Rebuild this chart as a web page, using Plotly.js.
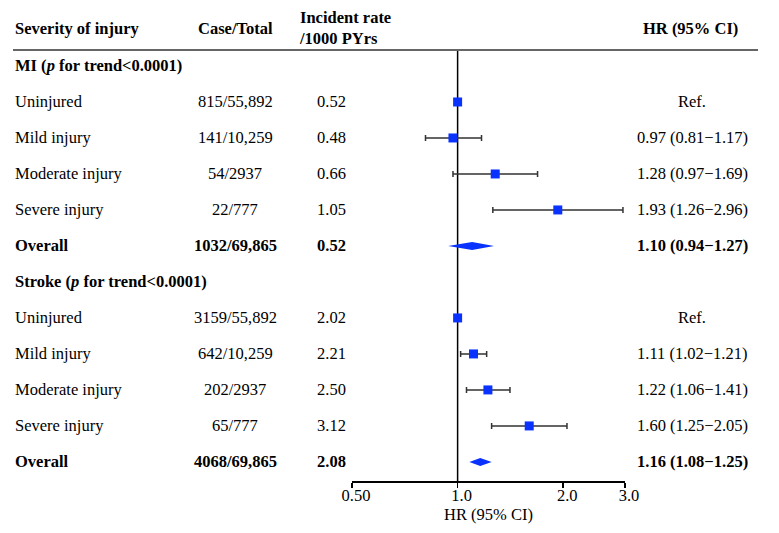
<!DOCTYPE html>
<html>
<head>
<meta charset="utf-8">
<script src="https://cdn.plot.ly/plotly-3.0.1.min.js"></script>
<style>html,body{margin:0;padding:0;background:#fff;}#chart{width:779px;height:533px;}</style>
</head>
<body>
<div id="chart"></div>
<script>
// ---- Data ----
const labels = ['MI (<i>p</i> for trend<0.0001)', 'Uninjured', 'Mild injury', 'Moderate injury', 'Severe injury', 'Overall',
                'Stroke (<i>p</i> for trend<0.0001)', 'Uninjured', 'Mild injury', 'Moderate injury', 'Severe injury', 'Overall'];
const rowType = ['group', 'ref', 'est', 'est', 'est', 'overall', 'group', 'ref', 'est', 'est', 'est', 'overall'];
const cases = ['', '815/55,892', '141/10,259', '54/2937', '22/777', '1032/69,865',
               '', '3159/55,892', '642/10,259', '202/2937', '65/777', '4068/69,865'];
const rates = ['', '0.52', '0.48', '0.66', '1.05', '0.52', '', '2.02', '2.21', '2.50', '3.12', '2.08'];
const hr = [null, 1.00, 0.97, 1.28, 1.93, 1.10, null, 1.00, 1.11, 1.22, 1.60, 1.16];
const lo = [null, null, 0.81, 0.97, 1.26, 0.94, null, null, 1.02, 1.06, 1.25, 1.08];
const hi = [null, null, 1.17, 1.69, 2.96, 1.27, null, null, 1.21, 1.41, 2.05, 1.25];
const headers = ['Severity of injury', 'Case/Total', 'Incident rate<br>/1000 PYrs', 'HR (95% CI)'];
const tickVals = [0.5, 1, 2, 3];
const tickText = ['0.50', '1.0', '2.0', '3.0'];

// ---- Layout constants ----
const W = 779, H = 533;
const FONT = 'Liberation Serif, Times New Roman, serif';
const FS = 16.5;
const blue = '#0a32ff';
const rows = labels.map((_, i) => i);
const yTop = -0.444, yBot = 11.53;

const fmt = v => v.toFixed(2);
const hrText = hr.map((v, i) => {
  if (rowType[i] === 'group') return '';
  if (rowType[i] === 'ref') return 'Ref.';
  return fmt(v) + ' (' + fmt(lo[i]) + '\u2212' + fmt(hi[i]) + ')';
});

const traces = [];
// reference line at HR = 1
traces.push({x: [1, 1], y: [yTop, yBot], mode: 'lines', line: {color: '#000', width: 1.5},
  hoverinfo: 'skip', showlegend: false, cliponaxis: false});

// reference-category markers (no CI)
const refIdx = rows.filter(i => rowType[i] === 'ref');
traces.push({x: refIdx.map(i => hr[i]), y: refIdx, mode: 'markers', type: 'scatter',
  marker: {symbol: 'square', size: 9, color: blue}, showlegend: false});

// estimate markers with CI
const estIdx = rows.filter(i => rowType[i] === 'est');
traces.push({x: estIdx.map(i => hr[i]), y: estIdx, mode: 'markers', type: 'scatter',
  marker: {symbol: 'square', size: 9, color: blue},
  error_x: {type: 'data', symmetric: false,
    array: estIdx.map(i => hi[i] - hr[i]), arrayminus: estIdx.map(i => hr[i] - lo[i]),
    color: '#333', thickness: 1.5, width: 3},
  showlegend: false});

// overall diamonds
const dh = 0.11;
rows.filter(i => rowType[i] === 'overall').forEach(i => {
  traces.push({x: [lo[i], hr[i], hi[i], hr[i], lo[i]], y: [i, i - dh, i, i + dh, i],
    mode: 'lines', fill: 'toself', fillcolor: blue, line: {width: 0, color: blue},
    showlegend: false, hoverinfo: 'skip'});
});

// ---- Text annotations ----
const ann = [];
const px = v => v / W;
const py = v => 1 - v / H;
function txt(x, y, text, anchor, bold, yref) {
  ann.push({xref: 'paper', yref: yref || 'y', x: x, y: y, text: bold ? '<b>' + text + '</b>' : text,
    xanchor: anchor, yanchor: 'middle', showarrow: false, align: anchor === 'left' ? 'left' : 'center',
    font: {family: FONT, size: FS, color: '#000'}});
}
// headers
txt(px(13), py(29), headers[0], 'left', true, 'paper');
txt(px(235), py(29), headers[1], 'center', true, 'paper');
txt(px(297), py(28), headers[2], 'left', true, 'paper');
txt(px(690), py(29), headers[3], 'center', true, 'paper');

rows.forEach(i => {
  const b = rowType[i] === 'group' || rowType[i] === 'overall';
  txt(px(13), i, labels[i], 'left', b);
  if (cases[i]) txt(px(235), i, cases[i], 'center', b);
  if (rates[i]) txt(px(331), i, rates[i], 'center', b);
  if (hrText[i]) txt(px(692), i, hrText[i], 'center', b);
});

const layout = {
  width: W, height: H,
  margin: {l: 0, r: 0, t: 0, b: 0},
  paper_bgcolor: '#fff', plot_bgcolor: '#fff',
  font: {family: FONT, size: FS, color: '#000'},
  showlegend: false,
  xaxis: {
    type: 'log', domain: [352 / W, 625 / W],
    range: [Math.log10(0.5), Math.log10(3)],
    tickvals: tickVals, ticktext: tickText,
    ticks: 'outside', ticklen: 5, tickwidth: 1.5, tickcolor: '#000',
    ticklabelstandoff: -6, ticklabelshift: 4,
    showline: true, linecolor: '#000', linewidth: 1.5,
    showgrid: false, zeroline: false,
    tickfont: {family: FONT, size: FS, color: '#000'},
    title: {text: 'HR (95% CI)', font: {family: FONT, size: FS, color: '#000'}, standoff: 2},
    fixedrange: true
  },
  yaxis: {
    domain: [1 - 481 / H, 1 - 50 / H],
    range: [yBot, yTop], visible: false, showgrid: false, zeroline: false, fixedrange: true
  },
  shapes: [
    {type: 'line', xref: 'paper', yref: 'paper', x0: px(13), x1: px(758), y0: py(50), y1: py(50),
     line: {color: '#666', width: 2}}
  ],
  annotations: ann
};

Plotly.newPlot('chart', traces, layout, {displayModeBar: false, staticPlot: true});
</script>
</body>
</html>
